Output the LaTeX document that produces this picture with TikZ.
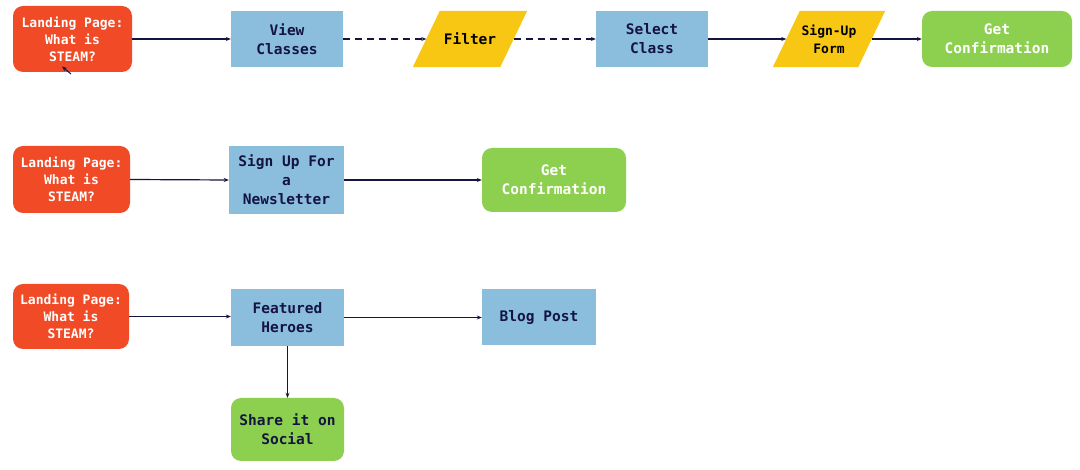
\documentclass[tikz,border=0pt]{standalone}
\usepackage{fontspec}
\setmonofont{DejaVu Sans Mono}
\usetikzlibrary{arrows.meta}
\definecolor{cred}{HTML}{F04A26}
\definecolor{cblue}{HTML}{8BBEDD}
\definecolor{cyellow}{HTML}{F8C713}
\definecolor{cgreen}{HTML}{8DCF4E}
\definecolor{navy}{HTML}{141440}
\tikzset{
  base/.style={inner sep=0pt, align=center, font=\ttfamily\bfseries\fontsize{14.5}{19}\selectfont},
  redbox/.style={base, fill=cred, rounded corners=10pt, text=white, font=\ttfamily\bfseries\fontsize{13}{17}\selectfont},
  bluebox/.style={base, fill=cblue, text=navy},
  greenbox/.style={base, fill=cgreen, rounded corners=10pt},
  parabox/.style={base, text=black},
  arr/.style={draw=navy, line width=1.2pt, -{Stealth[length=5pt,width=4pt]}},
  darr/.style={arr, dash pattern=on 7pt off 5pt},
}
\newcommand{\parafill}[2]{\fill[cyellow] ([xshift=#2]#1.north west) -- (#1.north east) -- ([xshift=-#2]#1.south east) -- (#1.south west) -- cycle;}
\begin{document}
\begin{tikzpicture}[x=1pt,y=-1pt]
\useasboundingbox[fill=white] (0,0) rectangle (1080,470);
% row 1
\node[redbox, minimum width=119pt, minimum height=66pt] (l1) at (72.5,39) {Landing Page:\\What is\\STEAM?};
\node[bluebox, minimum width=112pt, minimum height=56pt] (view) at (287,39) {View\\Classes};
\node[parabox, minimum width=114pt, minimum height=56pt] (filter) at (470,39) {};
\parafill{filter}{27pt}
\node[parabox] (filtert) at (filter.center) {Filter};
\node[bluebox, minimum width=112pt, minimum height=56pt] (select) at (652,39) {Select\\Class};
\node[parabox, minimum width=112pt, minimum height=56pt] (signup) at (829,39) {};
\parafill{signup}{27pt}
\node[parabox, font=\ttfamily\bfseries\fontsize{13}{18}\selectfont] (signupt) at (signup.center) {Sign-Up\\Form};
\node[greenbox, text=white, minimum width=150pt, minimum height=56pt] (get1) at (997,39) {Get\\Confirmation};
\coordinate (stub) at (71,74);
\coordinate (stubtip) at (62,66.5);
\draw[arr, line width=1pt] (stub) -- (stubtip);
\draw[arr] (l1) -- (view);
\draw[darr] (view) -- ([xshift=13.5pt]filter.west);
\draw[darr] ([xshift=-13.5pt]filter.east) -- (select);
\draw[arr] (select) -- ([xshift=13.5pt]signup.west);
\draw[arr] ([xshift=-13.5pt]signup.east) -- (get1);
% row 2
\node[redbox, minimum width=117pt, minimum height=67pt] (l2) at (71.5,179.5) {Landing Page:\\What is\\STEAM?};
\node[bluebox, minimum width=115pt, minimum height=68pt] (news) at (286.5,180) {Sign Up For\\a\\Newsletter};
\node[greenbox, text=white, minimum width=144pt, minimum height=64pt] (get2) at (554,180) {Get\\Confirmation};
\draw[arr] (l2.east) -- (news.west);
\draw[arr] (news) -- (get2);
% row 3
\node[redbox, minimum width=116pt, minimum height=65pt] (l3) at (71,316.5) {Landing Page:\\What is\\STEAM?};
\node[bluebox, minimum width=113pt, minimum height=57pt] (feat) at (287.5,317.5) {Featured\\Heroes};
\node[bluebox, minimum width=114pt, minimum height=56pt] (blog) at (539,317) {Blog Post};
\node[greenbox, text=navy, minimum width=113pt, minimum height=63pt] (share) at (287.5,429.5) {Share it on\\Social};
\draw[arr] (l3.east) -- (l3.east -| feat.west);
\draw[arr] (feat.east) -- (feat.east -| blog.west);
\draw[arr] (feat) -- (share);
\end{tikzpicture}
\end{document}
